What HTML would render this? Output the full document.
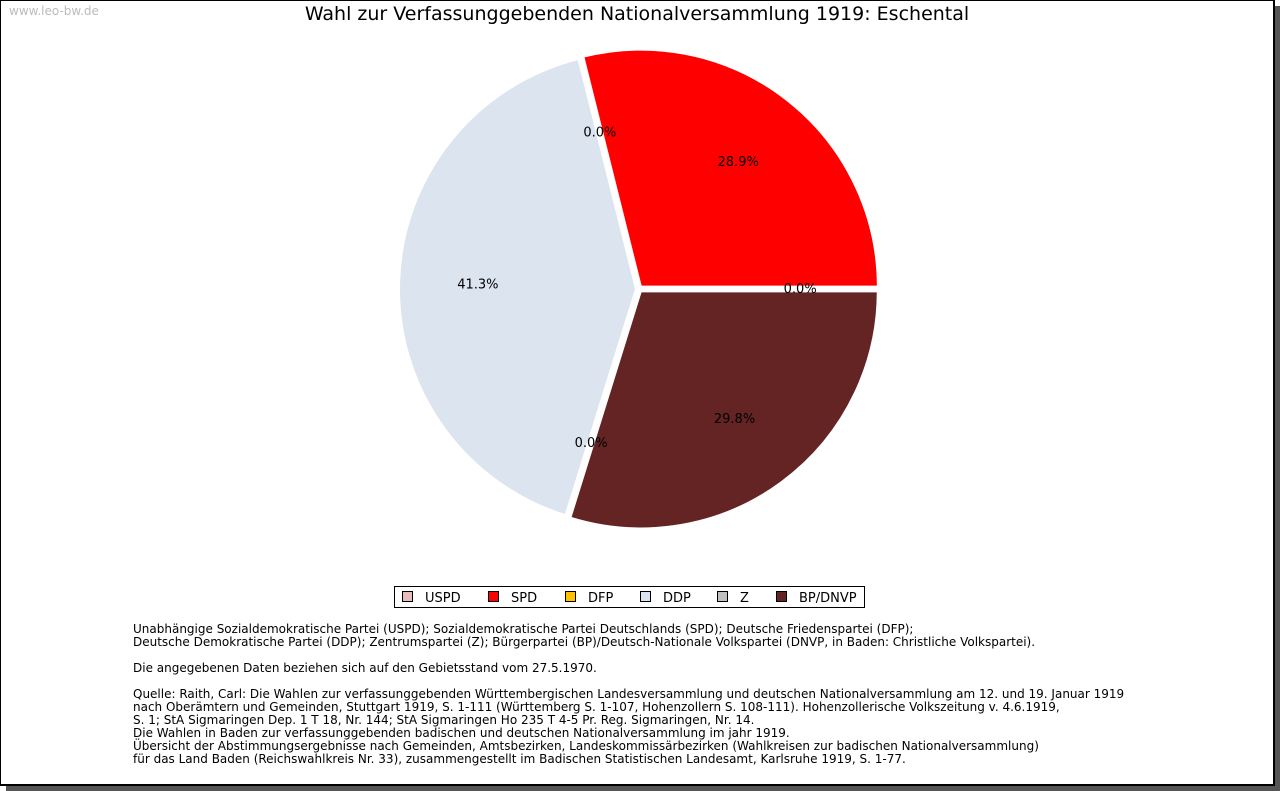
<!DOCTYPE html>
<html><head><meta charset="utf-8">
<style>
body{margin:0;width:1280px;height:791px;background:#fff;position:relative;overflow:hidden;font-family:"DejaVu Sans","Liberation Sans",sans-serif}
#shadow-r{position:absolute;left:1275px;top:6px;width:5px;height:785px;background:#555}
#shadow-b{position:absolute;left:6px;top:786px;width:1274px;height:5px;background:#555}
#frame{position:absolute;left:0;top:0;width:1272px;height:783px;border:1px solid #000;border-right-width:2px;border-bottom-width:2px;background:#fff}
#wm{position:absolute;left:9px;top:4px;font-size:12px;color:#bbb}
#title{position:absolute;left:0;width:1274px;top:3px;text-align:center;font-size:19px;color:#000}
#notes{position:absolute;left:133px;top:623px;font-size:12px;line-height:13px;color:#000;white-space:pre}
</style></head><body>
<div id="shadow-r"></div>
<div id="shadow-b"></div>
<div id="frame"></div>
<div id="wm">www.leo-bw.de</div>
<div id="title">Wahl zur Verfassunggebenden Nationalversammlung 1919: Eschental</div>
<svg id="chart" width="1280" height="791" style="position:absolute;left:0;top:0"></svg>
<div id="notes">Unabhängige Sozialdemokratische Partei (USPD); Sozialdemokratische Partei Deutschlands (SPD); Deutsche Friedenspartei (DFP);
Deutsche Demokratische Partei (DDP); Zentrumspartei (Z); Bürgerpartei (BP)/Deutsch-Nationale Volkspartei (DNVP, in Baden: Christliche Volkspartei).

Die angegebenen Daten beziehen sich auf den Gebietsstand vom 27.5.1970.

Quelle: Raith, Carl: Die Wahlen zur verfassunggebenden Württembergischen Landesversammlung und deutschen Nationalversammlung am 12. und 19. Januar 1919
nach Oberämtern und Gemeinden, Stuttgart 1919, S. 1-111 (Württemberg S. 1-107, Hohenzollern S. 108-111). Hohenzollerische Volkszeitung v. 4.6.1919,
S. 1; StA Sigmaringen Dep. 1 T 18, Nr. 144; StA Sigmaringen Ho 235 T 4-5 Pr. Reg. Sigmaringen, Nr. 14.
Die Wahlen in Baden zur verfassunggebenden badischen und deutschen Nationalversammlung im jahr 1919.
Übersicht der Abstimmungsergebnisse nach Gemeinden, Amtsbezirken, Landeskommissärbezirken (Wahlkreisen zur badischen Nationalversammlung)
für das Land Baden (Reichswahlkreis Nr. 33), zusammengestellt im Badischen Statistischen Landesamt, Karlsruhe 1919, S. 1-77.</div>
<script>
const parties=["USPD","SPD","DFP","DDP","Z","BP/DNVP"];
const shares=[0.0,28.9,0.0,41.3,0.0,29.8];
const colors=["#e6bcbc","#ff0000","#ffc000","#dce4f0","#c0c0c0","#632423"];
const NS="http://www.w3.org/2000/svg";
const svg=document.getElementById('chart');
const cx=639,cy=289,R=237,ex=3;
function pt(a,r,ox,oy){return [ox+r*Math.cos(a),oy-r*Math.sin(a)];}
const total=shares.reduce((a,b)=>a+b,0);
let ang=0;
const labels=[];
shares.forEach((v,i)=>{
  const sweep=v/total*2*Math.PI;
  const mid=ang+sweep/2;
  const ox=cx+ex*Math.cos(mid),oy=cy-ex*Math.sin(mid);
  if(sweep>0){
    const p=document.createElementNS(NS,'path');
    const a=pt(ang,R,ox,oy),b=pt(ang+sweep,R,ox,oy);
    p.setAttribute('d',`M${ox},${oy} L${a[0]},${a[1]} A${R},${R} 0 ${sweep>Math.PI?1:0} 0 ${b[0]},${b[1]} Z`);
    p.setAttribute('fill',colors[i]);p.setAttribute('stroke','#fff');p.setAttribute('stroke-width','2');
    
    
    svg.appendChild(p);
  }
  labels.push([mid,v,i]);
  ang+=sweep;
});
labels.forEach(([mid,v,i])=>{
  const lp=pt(mid,R*0.68,cx,cy);
  const t=document.createElementNS(NS,'text');
  t.setAttribute('x',lp[0]);t.setAttribute('y',lp[1]+4);
  t.setAttribute('text-anchor','middle');t.setAttribute('font-size','13');
  t.setAttribute('font-family','DejaVu Sans, Liberation Sans, sans-serif');
  t.textContent=v.toFixed(1)+'%';
  
  
  svg.appendChild(t);
});
// legend
const lg=document.createElementNS(NS,'g');


svg.appendChild(lg);
const box=document.createElementNS(NS,'rect');
box.setAttribute('x',394.5);box.setAttribute('y',586.5);box.setAttribute('width',470);box.setAttribute('height',21);
box.setAttribute('fill','#fff');box.setAttribute('stroke','#000');
lg.appendChild(box);
const lx=[402,488,565,640,717,776];
parties.forEach((p,i)=>{
  const g=document.createElementNS(NS,'g');
  
  
  const r=document.createElementNS(NS,'rect');
  r.setAttribute('x',lx[i]+0.5);r.setAttribute('y',591.5);r.setAttribute('width',10);r.setAttribute('height',10);
  r.setAttribute('fill',colors[i]);r.setAttribute('stroke','#000');
  const t=document.createElementNS(NS,'text');
  t.setAttribute('x',lx[i]+23);t.setAttribute('y',602);t.setAttribute('font-size','13');
  t.setAttribute('font-family','DejaVu Sans, Liberation Sans, sans-serif');
  t.textContent=p;
  g.appendChild(r);g.appendChild(t);lg.appendChild(g);
});
</script>
</body></html>
